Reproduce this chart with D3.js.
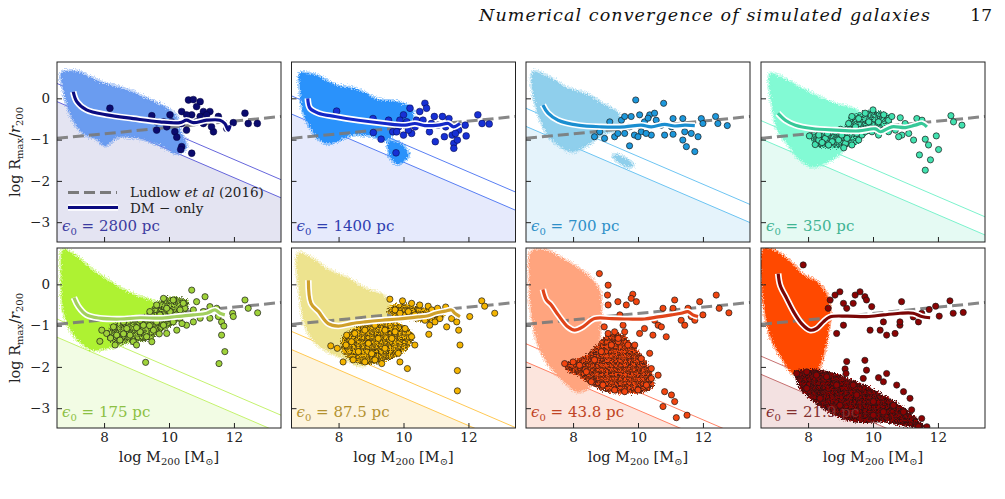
<!DOCTYPE html>
<html>
<head>
<meta charset="utf-8">
<script src="https://cdn.jsdelivr.net/npm/d3@7"></script>
<style>
  body { margin: 0; background: #fff; }
  svg text { font-family: 'DejaVu Serif', serif; }
</style>
</head>
<body>
<svg id="chart" width="1005" height="499"></svg>
<script>
// Rmax/r200 vs M200 for eight softening lengths

const epsLabels = ['2800', '1400', '700', '350', '175', '87.5', '43.8', '21.9'];
const xTicks = [8, 10, 12];
const yTicks = [0, -1, -2, -3];

// Ludlow et al (2016) relation, end points
const ludlowLine = [[6.55, -0.97], [13.45, -0.44]];

// convergence lines: value at x=6.55 and x=13.45
const upperStart = [0.36, 0.06, -0.24, -0.54, -0.84, -1.14, -1.44, -1.74];
const upperEnd = [-1.97, -2.27, -2.57, -2.87, -3.17, -3.47, -3.77, -4.07];
const lowerStart = [-0.08, -0.38, -0.68, -0.98, -1.28, -1.58, -1.88, -2.18];
const lowerEnd = [-2.41, -2.71, -3.01, -3.31, -3.61, -3.91, -4.21, -4.51];

// outlines of the dense clouds of low-mass haloes (one or more per panel)
const cloudShapes = [
  [[[6.69,0.61],[7.15,0.65],[7.87,0.40],[8.70,0.20],[9.41,-0.04],[9.93,-0.24],[10.24,-0.44],[10.34,-0.77],[10.54,-1.17],[10.24,-1.33],[9.83,-1.17],[9.11,-0.97],[8.39,-0.95],[8.03,-1.15],[7.77,-0.98],[7.36,-0.85],[7.0,-0.45],[6.75,0.2]]],
  [[[6.81,0.60],[7.27,0.56],[7.89,0.32],[8.61,0.20],[9.22,-0.04],[9.74,-0.08],[10.25,-0.24],[10.25,-0.57],[9.74,-0.70],[9.53,-1.0],[8.92,-0.89],[8.40,-0.89],[7.69,-1.09],[7.38,-0.97],[7.12,-0.69],[6.91,-0.32],[6.81,0.32]],
   [[9.55,-1.05],[9.9,-1.1],[10.15,-1.37],[9.84,-1.58],[9.59,-1.41]]],
  [[[6.77,0.64],[7.23,0.52],[7.84,0.24],[8.46,0.08],[8.97,-0.16],[9.38,-0.36],[9.43,-0.69],[8.87,-0.89],[8.36,-1.17],[7.95,-1.29],[7.54,-1.13],[7.23,-0.89],[7.02,-0.57],[6.82,-0.08]],
   [[9.28,-1.37],[9.59,-1.45],[9.85,-1.62],[9.69,-1.66],[9.38,-1.53],[9.23,-1.41]]],
  [[[6.84,0.60],[7.25,0.48],[7.81,0.24],[8.43,0.0],[8.94,-0.16],[9.35,-0.24],[9.56,-0.36],[9.25,-0.89],[9.04,-1.29],[8.63,-1.53],[8.12,-1.66],[7.71,-1.45],[7.4,-1.13],[7.09,-0.81],[6.89,-0.16]]],
  [[[6.75,0.83],[7.16,0.67],[7.57,0.39],[8.18,0.06],[8.7,-0.18],[9.21,-0.34],[9.52,-0.42],[9.72,-0.66],[9.31,-1.07],[8.7,-1.39],[8.08,-1.55],[7.67,-1.59],[7.26,-1.39],[6.95,-1.07],[6.75,-0.66],[6.69,0.14]]],
  [[[6.76,0.75],[7.17,0.63],[7.68,0.35],[8.3,0.14],[8.81,-0.10],[9.43,-0.30],[9.64,-0.66],[9.43,-0.99],[9.22,-1.47],[8.81,-1.96],[8.61,-1.96],[8.2,-1.80],[7.68,-1.63],[7.27,-1.39],[6.97,-0.99],[6.81,-0.26]]],
  [[[6.71,0.79],[7.12,0.83],[7.64,0.63],[8.15,0.39],[8.56,0.14],[8.82,-0.18],[8.87,-0.66],[8.82,-1.31],[8.77,-1.88],[8.56,-2.44],[8.15,-2.60],[7.74,-2.36],[7.43,-2.12],[7.12,-1.80],[6.87,-1.31],[6.71,-0.66],[6.66,0.14]]],
  [[[6.62,0.87],[6.93,0.83],[7.44,0.55],[7.85,0.22],[8.26,0.06],[8.57,-0.26],[8.67,-0.66],[8.62,-1.15],[8.47,-1.71],[8.26,-2.12],[7.96,-2.2],[7.55,-2.16],[7.14,-1.71],[6.83,-1.23],[6.67,-0.66],[6.57,0.14]]]
];

// dense clumps of resolved haloes (outlines), drawn as packed dots
const clumpShapes = [
  [], [], [],
  [[[8.1,-0.85],[8.6,-0.8],[9.1,-0.7],[9.3,-0.45],[9.8,-0.3],[10.4,-0.35],[10.6,-0.5],[10.3,-0.7],[9.8,-0.85],[9.6,-1.05],[9.2,-1.2],[8.7,-1.2],[8.2,-1.15]]],
  [[[8.2,-1.0],[8.8,-0.9],[9.3,-0.7],[9.6,-0.45],[10.0,-0.3],[10.6,-0.4],[10.5,-0.7],[10.2,-0.95],[9.8,-1.15],[9.4,-1.35],[8.9,-1.4],[8.4,-1.45],[8.1,-1.3]]],
  [[[8.1,-1.3],[8.5,-1.05],[8.9,-0.9],[9.4,-0.85],[9.9,-0.95],[10.3,-1.2],[10.2,-1.5],[9.8,-1.75],[9.3,-1.9],[8.8,-1.95],[8.4,-1.85],[8.1,-1.6]],
   [[9.64,-0.50],[10.05,-0.46],[10.45,-0.54],[10.76,-0.58],[11.07,-0.62],[11.28,-0.66],[11.17,-0.87],[10.66,-0.91],[10.15,-0.87],[9.74,-0.78],[9.48,-0.66]]],
  [[[7.74,-1.92],[8.3,-1.75],[8.75,-1.45],[9.1,-1.2],[9.5,-1.2],[9.95,-1.55],[10.35,-2.0],[10.5,-2.45],[10.2,-2.62],[9.6,-2.65],[9.0,-2.6],[8.5,-2.4],[8.1,-2.2],[7.8,-2.1]]],
  [[[7.6,-2.12],[8.0,-2.05],[8.6,-2.1],[9.2,-2.25],[9.8,-2.45],[10.4,-2.7],[10.9,-2.95],[11.3,-3.2],[11.6,-3.45],[11.0,-3.45],[10.4,-3.35],[9.5,-3.35],[9.0,-3.25],[8.5,-3.05],[8.1,-2.8],[7.75,-2.55]]]
];

// individual well-resolved haloes
const haloDots = [
  [[8.18,-0.24],[9.47,-0.42],[9.62,-0.77],[10.03,-0.40],[10.18,-0.81],[10.24,-0.94],[10.39,-1.17],[10.36,-1.24],[10.70,-1.33],[10.6,-0.04],[10.75,-0.03],[10.96,-0.08],[10.85,-0.20],[11.06,-0.32],[11.26,-0.32],[11.37,-0.81],[11.52,-0.44],[10.39,-0.61],[10.54,-0.77],[10.96,-0.44],[11.16,-0.40],[9.93,-0.69],[10.08,-0.57],[10.70,-0.40],[10.39,-0.32],[10.85,-0.57],[11.98,-0.59],[12.34,-0.36],[12.44,-0.61],[12.72,-0.61],[9.62,-0.57],[9.83,-0.57],[10.54,-0.40],[11.06,-0.61],[11.31,-0.69],[11.78,-0.73]],
  [[7.94,-0.31],[9.06,-0.49],[9.07,-0.83],[9.31,-0.99],[9.54,-0.53],[9.77,-1.32],[9.67,-0.81],[9.85,-0.69],[10.0,-0.40],[10.1,-0.57],[10.2,-0.24],[10.25,-0.85],[10.4,-0.53],[10.5,-0.32],[10.66,-0.12],[10.71,-0.24],[10.6,-0.53],[10.8,-0.81],[10.95,-0.44],[10.98,-1.05],[11.2,-0.44],[11.26,-0.93],[11.4,-0.49],[11.5,-0.89],[11.55,-1.09],[11.55,-1.21],[11.66,-1.01],[11.7,-0.77],[11.9,-0.65],[11.93,-0.91],[12.29,-0.40],[12.42,-0.61],[12.64,-0.62],[9.79,-0.81],[10.0,-0.89],[10.15,-0.77],[10.36,-0.69],[10.86,-0.61],[11.06,-0.65],[11.3,-0.69],[9.89,-0.53],[11.6,-0.85]],
  [[9.93,-0.04],[10.79,-0.12],[9.13,-0.57],[8.66,-0.93],[8.97,-0.97],[9.28,-0.93],[9.49,-0.53],[9.59,-0.85],[9.74,-1.15],[9.79,-0.44],[9.89,-0.89],[10.05,-0.40],[10.1,-0.81],[10.2,-0.57],[10.36,-0.40],[10.41,-0.89],[10.51,-0.36],[10.56,-0.53],[10.82,-0.89],[11.08,-0.49],[11.08,-0.87],[11.38,-0.49],[11.38,-1.01],[11.49,-1.17],[11.64,-0.85],[11.75,-1.29],[11.85,-0.93],[11.95,-0.49],[12.0,-0.61],[12.39,-0.44],[12.46,-0.61],[12.75,-0.66],[8.82,-0.81],[9.38,-0.85],[9.74,-0.69],[10.0,-0.93],[10.25,-0.85],[10.72,-0.65],[11.03,-0.69],[11.44,-0.81],[9.59,-0.44],[10.31,-0.48]],
  [[8.04,-0.91],[8.22,-1.12],[8.33,-1.01],[8.53,-0.97],[8.74,-1.05],[8.94,-1.01],[9.15,-1.09],[9.35,-1.13],[9.56,-1.01],[9.66,-0.89],[9.46,-0.69],[9.25,-0.61],[9.35,-0.44],[9.56,-0.49],[9.76,-0.36],[10.0,-0.28],[9.87,-0.57],[9.97,-0.81],[10.17,-0.57],[10.33,-0.40],[10.48,-0.53],[10.58,-0.44],[10.84,-0.47],[10.89,-0.89],[11.1,-0.85],[11.25,-1.01],[11.35,-0.49],[11.51,-0.53],[11.43,-1.37],[11.61,-0.99],[11.71,-1.13],[11.77,-1.49],[11.61,-1.74],[11.95,-0.91],[12.02,-1.24],[12.4,-0.42],[12.48,-0.57],[12.74,-0.65],[8.84,-0.81],[9.04,-0.89],[8.63,-1.13],[8.43,-1.07],[9.2,-0.97],[9.76,-0.81],[10.17,-0.89],[10.48,-0.81],[10.69,-0.77],[10.99,-0.61],[10.79,-0.93],[8.33,-0.89],[9.0,-0.75],[9.5,-0.85],[9.1,-1.2],[8.6,-0.85]],
  [[7.93,-1.11],[7.87,-1.38],[8.08,-1.19],[8.29,-1.03],[8.39,-1.23],[8.34,-1.47],[8.49,-1.35],[8.7,-1.07],[8.8,-1.23],[8.9,-1.39],[9.11,-1.15],[9.21,-0.99],[9.31,-1.27],[9.47,-1.39],[9.52,-1.11],[9.62,-0.91],[9.72,-0.74],[9.83,-0.99],[9.93,-1.19],[10.03,-0.66],[10.13,-0.91],[10.24,-1.11],[10.34,-0.82],[10.49,-0.58],[9.62,-0.50],[9.83,-0.34],[10.13,-0.38],[10.44,-0.46],[10.7,-0.14],[10.85,-0.42],[11.11,-0.30],[11.06,-0.66],[11.26,-0.54],[11.47,-0.58],[11.52,-0.78],[11.62,-0.91],[11.69,-1.01],[11.62,-1.23],[11.72,-1.63],[11.54,-1.92],[11.96,-0.70],[11.98,-0.78],[12.34,-0.38],[12.44,-0.58],[12.73,-0.69],[9.28,-1.89],[10.75,-0.91],[10.96,-0.82],[10.54,-0.99],[9.0,-1.47],[9.41,-0.66],[10.34,-0.62],[10.75,-0.62],[11.26,-0.82],[8.6,-0.91],[9.11,-0.87],[9.93,-0.58],[8.2,-1.3],[8.6,-1.2],[9.0,-1.05],[9.4,-1.0],[9.7,-1.2],[10.0,-0.8],[10.4,-0.95]],
  [[9.58,-0.36],[9.97,-0.40],[10.25,-0.46],[10.5,-0.50],[10.76,-0.53],[10.87,-0.62],[11.05,-0.58],[11.3,-0.55],[9.74,-0.62],[9.89,-0.70],[10.15,-0.66],[10.35,-0.74],[10.66,-0.87],[10.81,-0.99],[10.97,-0.91],[11.12,-0.83],[11.33,-1.03],[11.48,-0.83],[11.64,-0.91],[11.7,-1.11],[11.74,-1.47],[11.66,-2.09],[11.66,-2.58],[12.04,-0.78],[12.41,-0.40],[12.5,-0.53],[12.81,-0.70],[10.78,-1.21],[10.12,-2.04],[8.25,-1.23],[8.23,-1.47],[7.96,-1.55],[7.76,-1.49],[8.14,-1.88],[8.45,-1.83],[8.81,-1.88],[9.33,-1.92],[9.89,-1.88],[10.35,-1.47],[10.25,-1.27],[10.05,-1.07],[9.12,-0.99],[8.81,-1.11],[8.5,-1.19],[8.4,-1.39],[8.61,-1.63],[9.02,-1.68],[9.43,-1.55],[9.64,-1.31],[9.22,-1.31],[8.92,-1.43],[9.43,-1.11],[9.74,-1.15],[9.84,-1.67],[9.12,-1.83]],
  [[8.81,0.26],[9.08,-0.02],[9.06,-0.26],[9.08,-0.50],[9.38,-0.42],[9.64,-0.50],[9.84,-0.24],[9.79,-0.34],[9.95,-0.42],[9.44,-0.74],[9.54,-0.99],[8.96,-1.03],[9.08,-1.19],[10.05,-1.19],[10.2,-1.07],[10.46,-1.23],[10.51,-0.87],[10.62,-0.99],[10.72,-1.03],[10.87,-1.27],[10.77,-0.58],[11.08,-0.58],[11.13,-0.38],[11.33,-0.87],[11.44,-0.99],[11.54,-0.58],[11.64,-0.78],[11.75,-0.87],[12.0,-0.74],[11.9,-0.42],[12.41,-0.26],[12.5,-0.58],[12.8,-0.69],[10.36,-1.67],[10.1,-1.80],[10.41,-2.04],[10.62,-2.20],[10.82,-2.60],[11.03,-2.68],[11.13,-2.84],[11.18,-3.23],[11.51,-3.17],[10.77,-2.96],[7.74,-1.92],[8.0,-1.88],[8.2,-1.96],[8.41,-2.12],[8.56,-2.36],[8.92,-2.44],[9.28,-2.56],[9.59,-2.60],[10.0,-2.56],[10.26,-2.44],[10.41,-2.28],[9.69,-1.47],[9.9,-1.47],[9.39,-1.39],[9.18,-1.47],[8.87,-1.63],[8.66,-1.83],[9.39,-1.31],[9.59,-1.15],[9.28,-1.15]],
  [[7.85,0.47],[8.83,-0.26],[8.98,-0.18],[8.68,-0.38],[8.62,-0.58],[9.09,-0.46],[9.19,-0.58],[9.45,-0.26],[9.6,-0.18],[9.75,-0.30],[9.8,-0.38],[9.39,-0.46],[9.96,-0.54],[9.09,-0.99],[8.88,-1.19],[9.91,-1.11],[10.22,-1.11],[10.32,-0.91],[10.42,-1.23],[10.68,-1.19],[10.83,-0.99],[10.88,-0.42],[10.83,-0.91],[11.24,-0.79],[11.4,-0.91],[11.5,-0.70],[11.73,-0.61],[11.93,-0.53],[12.04,-0.77],[12.37,-0.40],[12.47,-0.70],[12.78,-0.68],[9.19,-1.87],[9.14,-2.05],[9.17,-2.16],[9.75,-1.84],[9.8,-2.08],[10.17,-2.26],[10.32,-2.36],[10.42,-2.16],[10.73,-2.44],[10.94,-2.6],[11.14,-2.76],[11.19,-3.04],[11.5,-3.25],[11.4,-3.45],[11.66,-3.45],[10.94,-3.09],[10.63,-2.93],[7.65,-2.16],[7.96,-2.12],[8.26,-2.2],[8.57,-2.24],[7.96,-2.52],[8.37,-2.76],[8.98,-2.93],[9.5,-3.09],[10.01,-3.17],[10.32,-3.09],[10.01,-2.84],[9.5,-2.68],[8.88,-2.44],[9.39,-2.44],[9.7,-2.28]]
];

// running medians
const medianLines = [
  [[7.05,0.16],[7.16,-0.08],[7.46,-0.28],[8.08,-0.40],[8.9,-0.49],[9.72,-0.57],[10.34,-0.59],[10.54,-0.53],[10.75,-0.59],[11.16,-0.53],[11.57,-0.53],[11.72,-0.61],[11.83,-0.77],[11.88,-0.65]],
  [[7.05,0.0],[7.12,-0.24],[7.38,-0.36],[7.89,-0.44],[8.61,-0.53],[9.43,-0.61],[10.05,-0.65],[10.35,-0.61],[10.66,-0.66],[11.07,-0.65],[11.38,-0.61],[11.54,-0.69],[11.74,-0.61]],
  [[7.07,-0.16],[7.23,-0.36],[7.54,-0.53],[8.15,-0.65],[8.87,-0.69],[9.59,-0.69],[10.1,-0.65],[10.41,-0.69],[10.82,-0.63],[11.13,-0.67],[11.44,-0.65],[11.75,-0.66]],
  [[7.07,-0.36],[7.3,-0.53],[7.61,-0.65],[8.12,-0.73],[8.84,-0.77],[9.56,-0.79],[10.07,-0.74],[10.23,-0.81],[10.58,-0.69],[11.0,-0.71],[11.3,-0.65],[11.51,-0.61],[11.66,-0.69]],
  [[7.07,-0.32],[7.21,-0.54],[7.46,-0.74],[7.87,-0.82],[8.49,-0.84],[9.11,-0.81],[9.72,-0.82],[10.24,-0.78],[10.75,-0.74],[11.16,-0.70],[11.42,-0.62],[11.57,-0.70],[11.72,-0.74]],
  [[7.07,0.10],[7.15,-0.46],[7.38,-0.66],[7.68,-0.95],[7.99,-1.01],[8.4,-0.95],[8.81,-0.91],[9.33,-0.87],[9.84,-0.84],[10.45,-0.79],[10.76,-0.76],[10.97,-0.70],[11.28,-0.65],[11.48,-0.62],[11.58,-0.70],[11.74,-0.78]],
  [[7.07,-0.12],[7.18,-0.38],[7.33,-0.50],[7.54,-0.74],[7.84,-1.03],[8.05,-1.11],[8.3,-1.03],[8.66,-0.83],[9.18,-0.83],[9.69,-0.84],[10.2,-0.84],[10.62,-0.79],[11.03,-0.74],[11.33,-0.70],[11.54,-0.66],[11.69,-0.74],[11.85,-0.78]],
  [[7.08,0.26],[7.14,-0.02],[7.34,-0.34],[7.55,-0.66],[7.80,-0.95],[8.06,-1.11],[8.26,-1.07],[8.47,-0.91],[8.67,-0.79],[9.19,-0.77],[9.8,-0.78],[10.32,-0.74],[10.83,-0.70],[11.24,-0.70],[11.5,-0.78],[11.76,-0.81]]
];

// colours per panel
const cloudColors = ['#6a9cf0', '#2b92fb', '#8fcfec', '#82fad4', '#aef232', '#ede38e', '#ffa47e', '#ff4a05'];
const dotColors = ['#0b0b6e', '#1730d4', '#1d98dc', '#42e2b0', '#9fd23a', '#f4b400', '#f2450f', '#8b0303'];
const medianColors = ['#0b0b80', '#1428c8', '#1a8ed0', '#36c898', '#a2cf5e', '#cfa02a', '#e0441a', '#7a0606'];
const edgeColors = ['#5555d8', '#4670f2', '#5cbdf0', '#6cf0c6', '#bdf05c', '#ffc240', '#ff7352', '#c06060'];
const fillColors = ['#e4e4f2', '#e6eafc', '#e5f3fb', '#e5faf3', '#f2fce4', '#fdf4de', '#fce5dd', '#f3e1e1'];
const labelColors = ['#3b3ba0', '#2f40b0', '#2e8fc8', '#3fb493', '#8cc043', '#b3912f', '#c04424', '#833030'];

// layout
const panelLeft = [57, 291.5, 526, 761];
const panelTop = [62, 248];
const PW = 224, PH = 180;

const svg = d3.select('#chart');
const defs = svg.append('defs');

// ragged edge for the scatter clouds
const rough = defs.append('filter').attr('id', 'rough')
    .attr('x', '-10%').attr('y', '-10%').attr('width', '120%').attr('height', '120%');
rough.append('feTurbulence').attr('type', 'fractalNoise')
    .attr('baseFrequency', 0.8).attr('numOctaves', 2).attr('seed', 4).attr('result', 'noise');
rough.append('feDisplacementMap').attr('in', 'SourceGraphic').attr('in2', 'noise')
    .attr('scale', 6).attr('xChannelSelector', 'R').attr('yChannelSelector', 'G');

const x = d3.scaleLinear().domain([6.55, 13.45]).range([0, PW]);
const y = d3.scaleLinear().domain([-3.48, 0.88]).range([PH, 0]);

const line = d3.line().x(d => x(d[0])).y(d => y(d[1]));
const smoothLine = d3.line().x(d => x(d[0])).y(d => y(d[1])).curve(d3.curveCatmullRom);
const blob = d3.line().x(d => x(d[0])).y(d => y(d[1])).curve(d3.curveCatmullRomClosed.alpha(0.5));
const belowArea = d3.area().x(d => x(d[0])).y0(PH).y1(d => y(d[1]));

// header
svg.append('text')
    .attr('x', 479).attr('y', 21)
    .attr('font-size', 17.5)
    .attr('font-style', 'italic')
    .attr('textLength', 451)
    .attr('lengthAdjust', 'spacing')
    .attr('fill', '#111')
    .text('Numerical convergence of simulated galaxies');
svg.append('text')
    .attr('x', 992).attr('y', 21)
    .attr('text-anchor', 'end')
    .attr('font-size', 17)
    .attr('fill', '#111')
    .text('17');

epsLabels.forEach((eps, i) => {
    const col = i % 4, row = Math.floor(i / 4);
    const g = svg.append('g')
        .attr('transform', `translate(${panelLeft[col]},${panelTop[row]})`);

    g.append('clipPath').attr('id', 'clip' + i)
        .append('rect').attr('width', PW).attr('height', PH);

    // packed-dot texture for the dense clumps
    const pat = defs.append('pattern').attr('id', 'pat' + i)
        .attr('patternUnits', 'userSpaceOnUse')
        .attr('width', 4.6).attr('height', 4.6);
    pat.append('rect').attr('width', 4.6).attr('height', 4.6).attr('fill', dotColors[i]);
    [[0, 0], [4.6, 0], [0, 4.6], [4.6, 4.6], [2.3, 2.3]].forEach(([cx, cy]) => {
        pat.append('circle').attr('cx', cx).attr('cy', cy).attr('r', 2.2)
            .attr('fill', dotColors[i]).attr('stroke', '#111').attr('stroke-width', 0.7);
    });

    const inner = g.append('g').attr('clip-path', `url(#clip${i})`);

    // unresolved region below the lower line
    inner.append('path')
        .attr('d', belowArea([[6.55, lowerStart[i]], [13.45, lowerEnd[i]]]))
        .attr('fill', fillColors[i]);

    [[upperStart[i], upperEnd[i]], [lowerStart[i], lowerEnd[i]]].forEach(([a, b]) => {
        inner.append('path')
            .attr('d', line([[6.55, a], [13.45, b]]))
            .attr('fill', 'none')
            .attr('stroke', edgeColors[i])
            .attr('stroke-width', 0.9);
    });

    // cloud of poorly resolved haloes
    const cloud = inner.append('g').attr('filter', 'url(#rough)');
    cloudShapes[i].forEach(shape => {
        cloud.append('path')
            .attr('d', blob(shape))
            .attr('fill', cloudColors[i])
            .attr('stroke', cloudColors[i])
            .attr('stroke-opacity', 0.45)
            .attr('stroke-width', 4);
    });

    inner.append('path')
        .attr('d', line(ludlowLine))
        .attr('fill', 'none')
        .attr('stroke', '#7a7a7a')
        .attr('stroke-opacity', 0.9)
        .attr('stroke-width', 3)
        .attr('stroke-dasharray', '11,5');

    // epsilon label (dots may cover it)
    const lab = g.append('text')
        .attr('x', 5).attr('y', PH - 11)
        .attr('font-size', 15)
        .attr('fill', labelColors[i]);
    lab.append('tspan').attr('font-style', 'italic').text('ϵ');
    lab.append('tspan').attr('font-size', 10).attr('dy', 4).text('0');
    lab.append('tspan').attr('dy', -4).text(` = ${eps} pc`);

    const clumps = inner.append('g').attr('filter', 'url(#rough)');
    clumpShapes[i].forEach(shape => {
        clumps.append('path')
            .attr('d', blob(shape))
            .attr('fill', `url(#pat${i})`);
    });

    const edged = i >= 2;
    inner.append('g').selectAll('circle')
        .data(haloDots[i])
        .join('circle')
        .attr('cx', d => x(d[0]))
        .attr('cy', d => y(d[1]))
        .attr('r', i < 2 ? 3.4 : 3.1)
        .attr('fill', dotColors[i])
        .attr('stroke', edged ? '#1a1a1a' : '#05053a')
        .attr('stroke-width', edged ? 0.7 : 0.5);

    // median with white halo
    inner.append('path')
        .attr('d', smoothLine(medianLines[i]))
        .attr('fill', 'none')
        .attr('stroke', '#fff')
        .attr('stroke-width', 6.5)
        .attr('stroke-linejoin', 'round');
    inner.append('path')
        .attr('d', smoothLine(medianLines[i]))
        .attr('fill', 'none')
        .attr('stroke', medianColors[i])
        .attr('stroke-width', 3.2)
        .attr('stroke-linejoin', 'round');

    // axes with inward ticks
    const ya = g.append('g')
        .call(d3.axisLeft(y).tickValues(yTicks).tickSize(-5).tickPadding(7)
            .tickFormat(col === 0 ? d3.format('d') : () => ''));
    const xa = g.append('g').attr('transform', `translate(0,${PH})`)
        .call(d3.axisBottom(x).tickValues(xTicks).tickSize(-5).tickPadding(4)
            .tickFormat(row === 1 ? d3.format('d') : () => ''));
    [ya, xa].forEach(a => {
        a.select('.domain').remove();
        a.selectAll('line').attr('stroke', '#222');
        a.selectAll('text').attr('font-size', 13.5).attr('fill', '#222')
            .attr('font-family', "'DejaVu Serif', serif");
    });

    g.append('rect')
        .attr('width', PW).attr('height', PH)
        .attr('fill', 'none')
        .attr('stroke', '#222')
        .attr('stroke-width', 1);

    if (row === 1) {
        const t = g.append('text')
            .attr('x', PW / 2).attr('y', PH + 34)
            .attr('text-anchor', 'middle')
            .attr('font-size', 14.5)
            .attr('fill', '#222');
        t.append('tspan').text('log  M');
        t.append('tspan').attr('font-size', 10).attr('dy', 3).text('200');
        t.append('tspan').attr('dy', -3).text(' [M');
        t.append('tspan').attr('font-size', 10).attr('dy', 3).text('⊙');
        t.append('tspan').attr('dy', -3).text(']');
    }
    if (col === 0) {
        const t = g.append('text')
            .attr('transform', `translate(-37,${PH / 2}) rotate(-90)`)
            .attr('text-anchor', 'middle')
            .attr('font-size', 14.5)
            .attr('fill', '#222');
        t.append('tspan').text('log  R');
        t.append('tspan').attr('font-size', 10).attr('dy', 3).text('max');
        t.append('tspan').attr('dy', -3).text('/');
        t.append('tspan').attr('font-style', 'italic').text('r');
        t.append('tspan').attr('font-size', 10).attr('dy', 3).text('200');
    }

    // legend in the first panel
    if (i === 0) {
        g.append('line')
            .attr('x1', 11).attr('x2', 60).attr('y1', 130.5).attr('y2', 130.5)
            .attr('stroke', '#7a7a7a').attr('stroke-width', 3).attr('stroke-dasharray', '11,5');
        g.append('line')
            .attr('x1', 11).attr('x2', 61).attr('y1', 145.5).attr('y2', 145.5)
            .attr('stroke', '#fff').attr('stroke-width', 6.5);
        g.append('line')
            .attr('x1', 11).attr('x2', 61).attr('y1', 145.5).attr('y2', 145.5)
            .attr('stroke', medianColors[0]).attr('stroke-width', 3.2);
        const l1 = g.append('text').attr('x', 73).attr('y', 135).attr('font-size', 13.5).attr('fill', '#222');
        l1.append('tspan').text('Ludlow ');
        l1.append('tspan').attr('font-style', 'italic').text('et al');
        l1.append('tspan').text(' (2016)');
        g.append('text').attr('x', 73).attr('y', 151).attr('font-size', 13.5).attr('fill', '#222')
            .text('DM − only');
    }
});
</script>
</body>
</html>
